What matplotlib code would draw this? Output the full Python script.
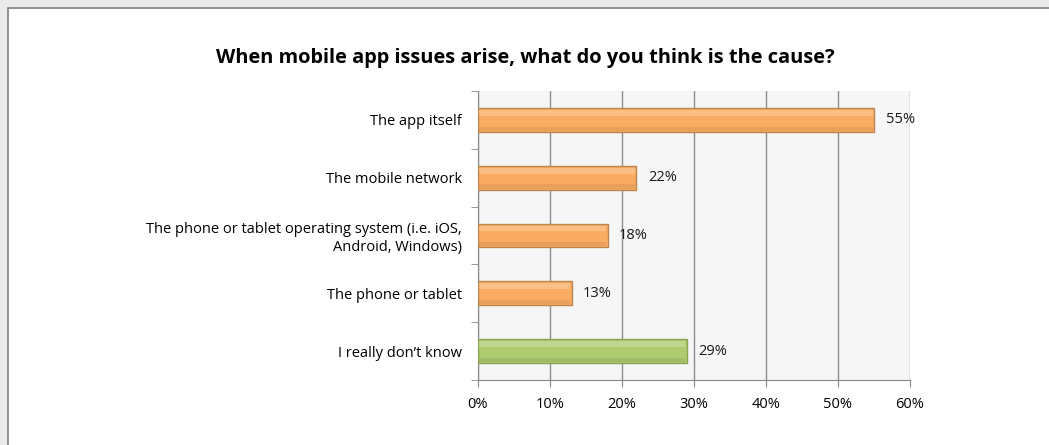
import matplotlib
matplotlib.use("Agg")
import matplotlib.pyplot as plt
import numpy as np
from matplotlib.patches import Rectangle

categories = ["The app itself", "The mobile network",
              "The phone or tablet operating system (i.e. iOS,\nAndroid, Windows)",
              "The phone or tablet", "I really don\u2019t know"]
values = [55, 22, 18, 13, 29]
colors = ["#FAAD62", "#FAAD62", "#FAAD62", "#FAAD62", "#AECB70"]
edges = ["#B9864F", "#B9864F", "#B9864F", "#B9864F", "#8AA352"]
xticks = [0, 10, 20, 30, 40, 50, 60]
title = "When mobile app issues arise, what do you think is the cause?"

plt.rcParams['font.family'] = ['Open Sans', 'DejaVu Sans']

fig = plt.figure(figsize=(10.49, 4.45), dpi=100)
fig.patch.set_facecolor("#EBEBEB")
bg = fig.add_axes([0, 0, 1, 1], zorder=-5)
bg.set_xlim(0, 1049)
bg.set_ylim(445, 0)
bg.axis("off")
bg.add_patch(Rectangle((8, 8), 1100, 500, facecolor="white", edgecolor="#7F7F7F", linewidth=1.2))

ax = fig.add_axes([478/1049, 1 - 380/445, (910 - 478)/1049, (380 - 91)/445], zorder=1)
ax.set_facecolor("#F6F6F6")

y = np.arange(len(categories))
bars = ax.barh(y, values, height=0.41, color=colors, edgecolor=edges, linewidth=1, zorder=3)
for b in bars:
    x0, y0 = b.get_x(), b.get_y()
    w, h = b.get_width(), b.get_height()
    ax.add_patch(Rectangle((x0 + 0.2, y0 + h*0.08), w - 0.4, h*0.25, facecolor="white",
                           alpha=0.22, linewidth=0, zorder=4))
    ax.add_patch(Rectangle((x0 + 0.2, y0 + h*0.78), w - 0.4, h*0.18, facecolor="black",
                           alpha=0.07, linewidth=0, zorder=4))

for yi, v in zip(y, values):
    ax.text(v + 1.6, yi, f"{v}%", va="center", ha="left", fontsize=10.5, color="#1a1a1a", zorder=5)

ax.set_xlim(0, 60)
ax.set_ylim(len(categories) - 0.5, -0.5)
ax.set_xticks(xticks)
ax.set_xticklabels([f"{t}%" for t in xticks], fontsize=10.5)
ax.set_yticks(y)
ax.set_yticklabels(categories, fontsize=10.5, ha="right")
ax.tick_params(axis="y", length=0, pad=11.5)
ax.set_yticks(np.arange(-0.5, len(categories) + 0.5, 1), minor=True)
ax.tick_params(axis="y", which="minor", length=5, color="#888888")
ax.tick_params(axis="x", length=5, color="#888888", pad=7)
for lab in ax.get_yticklabels():
    lab.set_multialignment("right")

ax.grid(axis="x", color="#8C8C8C", linewidth=1, zorder=1)
ax.set_axisbelow(True)
for s in ["top", "right"]:
    ax.spines[s].set_visible(False)
ax.spines["left"].set_color("#888888")
ax.spines["bottom"].set_color("#888888")

fig.text(525/1049, 1 - 58/445, title, ha="center", va="center", fontsize=14.4,
         fontweight="bold", color="black")

fig.savefig("out.png", dpi=100, facecolor=fig.get_facecolor())
